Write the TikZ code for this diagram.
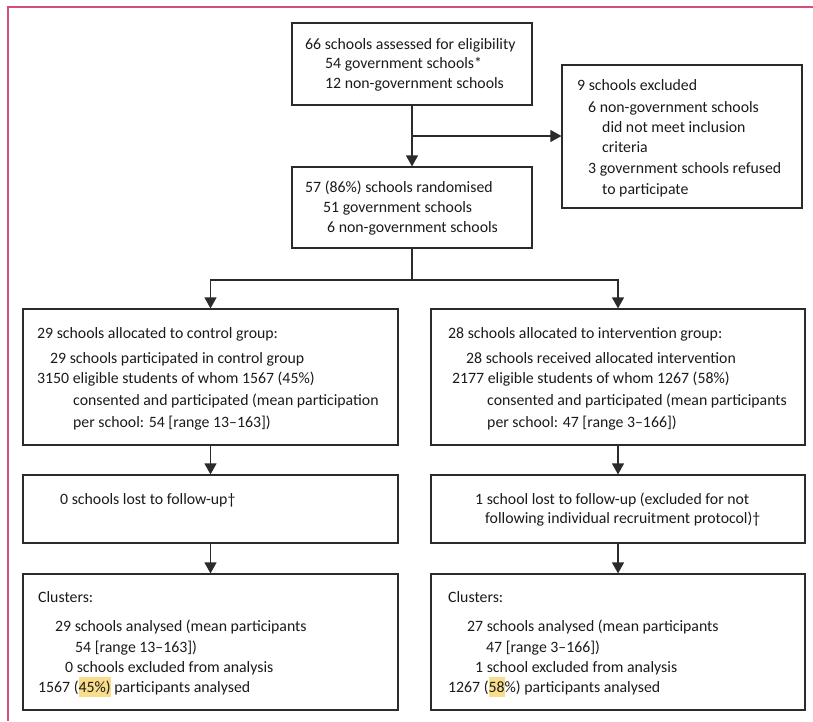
\documentclass[tikz,border=0pt]{standalone}
\usepackage{fontspec}
\setmainfont{Carlito}
\usetikzlibrary{arrows.meta}
\definecolor{bordercol}{HTML}{D4507A}
\definecolor{linecol}{HTML}{2B2B2B}
\definecolor{textcol}{HTML}{1A1A1A}
\definecolor{hlcol}{HTML}{FADD8C}
\newcommand\fs{\fontsize{15.8}{18}\selectfont}
\newcommand\hlt[1]{\setbox0\hbox{#1}\rlap{\textcolor{hlcol}{\rule[-0.34em]{\wd0}{1.3em}}}\box0\relax}
\begin{document}
\begin{tikzpicture}[x=1pt,y=-1pt,
  box/.style={draw=linecol, line width=1.2pt, rectangle, inner sep=0pt},
  txt/.style={anchor=base west, inner sep=0pt, font=\fs, text=textcol},
  conn/.style={draw=linecol, line width=1.2pt},
  arr/.style={conn, -{Triangle[length=11pt,width=12pt]}}]
\useasboundingbox (0,0) rectangle (813,721);
\draw[bordercol, line width=1.6pt] (8,721) -- (8,7) -- (813,7);

% boxes
\node[box, minimum width=240pt, minimum height=82pt] (top) at (412,64) {};
\node[box, minimum width=240pt, minimum height=143pt] (excl) at (682,136.5) {};
\node[box, minimum width=240pt, minimum height=81pt] (rand) at (412,207.5) {};
\node[box, minimum width=375pt, minimum height=136pt] (ctrl) at (210.5,377) {};
\node[box, minimum width=374pt, minimum height=136pt] (intv) at (618,377) {};
\node[box, minimum width=375pt, minimum height=68pt] (lostC) at (210.5,509) {};
\node[box, minimum width=374pt, minimum height=68pt] (lostI) at (618,509) {};
\node[box, minimum width=375pt, minimum height=136pt] (anaC) at (210.5,642) {};
\node[box, minimum width=374pt, minimum height=136pt] (anaI) at (618,642) {};

% texts: top
\node[txt] (t1) at (305,49) {66 schools assessed for eligibility};
\node[txt] (t2) at (325,68) {54 government schools*};
\node[txt] (t3) at (325,88) {12 non-government schools};
% excluded
\node[txt] (e1) at (577,90) {9 schools excluded};
\node[txt] (e2) at (588,112) {6 non-government schools};
\node[txt] (e3) at (602,132) {did not meet inclusion};
\node[txt] (e4) at (602,152) {criteria};
\node[txt] (e5) at (588,173) {3 government schools refused};
\node[txt] (e6) at (602,194) {to participate};
% randomised
\node[txt] (r1) at (305,192) {57 (86\%) schools randomised};
\node[txt] (r2) at (323,212) {51 government schools};
\node[txt] (r3) at (327,232) {6 non-government schools};
% control
\node[txt] (c1) at (37,338) {29 schools allocated to control group:};
\node[txt] (c2) at (50,363) {29 schools participated in control group};
\node[txt] (c3) at (37,383) {3150 eligible students of whom 1567 (45\%)};
\node[txt] (c4) at (73,405) {consented and participated (mean participation};
\node[txt] (c5) at (73,427) {per school: 54 [range 13–163])};
% intervention
\node[txt] (i1) at (448,338) {28 schools allocated to intervention group:};
\node[txt] (i2) at (466,363) {28 schools received allocated intervention};
\node[txt] (i3) at (452,383) {2177 eligible students of whom 1267 (58\%)};
\node[txt] (i4) at (487,405) {consented and participated (mean participants};
\node[txt] (i5) at (487,427) {per school: 47 [range 3–166])};
% lost
\node[txt] (l1) at (60,504) {0 schools lost to follow-up†};
\node[txt] (l2) at (475,504) {1 school lost to follow-up (excluded for not};
\node[txt] (l3) at (485,523) {following individual recruitment protocol)†};
% analysed control
\node[txt] (a1) at (38,602) {Clusters:};
\node[txt] (a2) at (55,631) {29 schools analysed (mean participants};
\node[txt] (a3) at (75,652) {54 [range 13–163])};
\node[txt] (a4) at (65,672) {0 schools excluded from analysis};
\node[txt] (a5) at (38,692) {1567 (\hlt{45\%)} participants analysed};
% analysed intervention
\node[txt] (b1) at (448,602) {Clusters:};
\node[txt] (b2) at (467,631) {27 schools analysed (mean participants};
\node[txt] (b3) at (486,652) {47 [range 3–166])};
\node[txt] (b4) at (475,672) {1 school excluded from analysis};
\node[txt] (b5) at (448,692) {1267 (\hlt{58}\%) participants analysed};

% connectors
\draw[arr] (top.south) -- (rand.north);
\coordinate (bp) at (412,136);
\draw[arr] (bp) -- (bp -| excl.west);
\coordinate (sp) at (412,280);
\draw[conn] (rand.south) -- (sp);
\draw[arr] (sp) -| (ctrl.north);
\draw[arr] (sp) -| (intv.north);
\draw[arr] (ctrl.south) -- (lostC.north);
\draw[arr] (intv.south) -- (lostI.north);
\draw[arr] (lostC.south) -- (anaC.north);
\draw[arr] (lostI.south) -- (anaI.north);
\end{tikzpicture}
\end{document}
